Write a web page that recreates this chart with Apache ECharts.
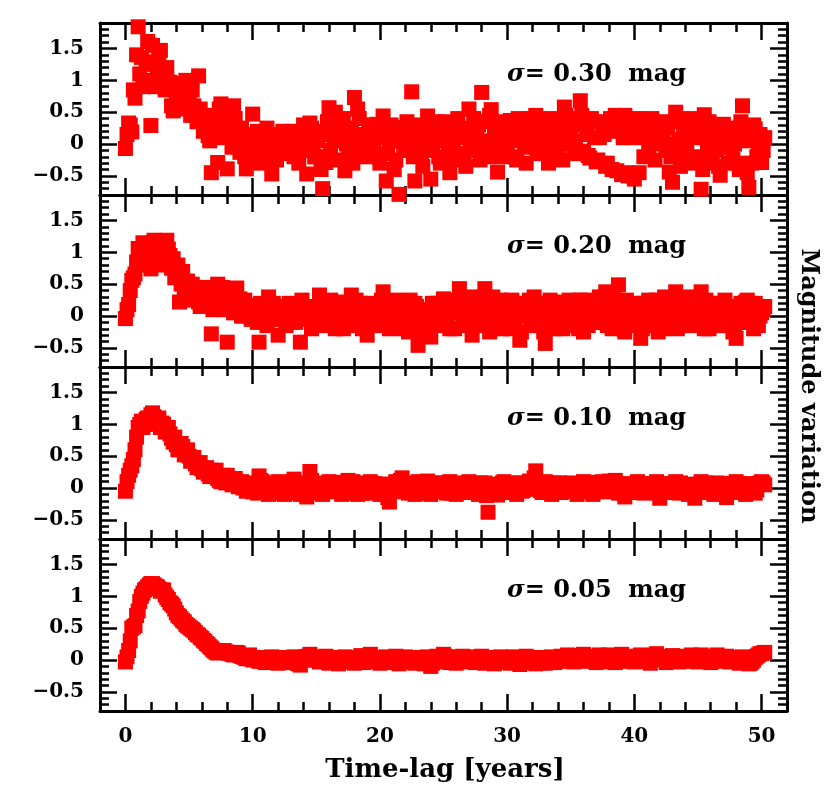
<!DOCTYPE html>
<html><head><meta charset="utf-8">
<script src="https://cdn.jsdelivr.net/npm/echarts@6/dist/echarts.min.js"></script>
<style>html,body{margin:0;padding:0;background:#fff}#c{width:830px;height:808px}</style>
</head><body><div id="c"></div>
<script>
// time lags in years, first sampling (shared by all panels)
const timeLag = [
0,0.25,0.5,0.75,1,1.25,1.5,1.75,2,2.25,
2.5,2.75,3,3.25,3.5,3.75,4,4.25,4.5,4.75,
5,5.25,5.5,5.75,6,6.25,6.5,6.75,7,7.25,
7.5,7.75,8,8.25,8.5,8.75,9,9.25,9.5,9.75,
10,10.25,10.5,10.75,11,11.25,11.5,11.75,12,12.25,
12.5,12.75,13,13.25,13.5,13.75,14,14.25,14.5,14.75,
15,15.25,15.5,15.75,16,16.25,16.5,16.75,17,17.25,
17.5,17.75,18,18.25,18.5,18.75,19,19.25,19.5,19.75,
20,20.25,20.5,20.75,21,21.25,21.5,21.75,22,22.25,
22.5,22.75,23,23.25,23.5,23.75,24,24.25,24.5,24.75,
25,25.25,25.5,25.75,26,26.25,26.5,26.75,27,27.25,
27.5,27.75,28,28.25,28.5,28.75,29,29.25,29.5,29.75,
30,30.25,30.5,30.75,31,31.25,31.5,31.75,32,32.25,
32.5,32.75,33,33.25,33.5,33.75,34,34.25,34.5,34.75,
35,35.25,35.5,35.75,36,36.25,36.5,36.75,37,37.25,
37.5,37.75,38,38.25,38.5,38.75,39,39.25,39.5,39.75,
40,40.25,40.5,40.75,41,41.25,41.5,41.75,42,42.25,
42.5,42.75,43,43.25,43.5,43.75,44,44.25,44.5,44.75,
45,45.25,45.5,45.75,46,46.25,46.5,46.75,47,47.25,
47.5,47.75,48,48.25,48.5,48.75,49,49.25,49.5,49.75,
50,50.25];

// time lags in years, second (interleaved) sampling
const timeLagB = [
0.125,0.375,0.625,0.875,1.125,1.375,1.625,1.875,2.125,2.375,
2.625,2.875,3.125,3.375,3.625,3.875,4.125,4.375,4.625,4.875,
5.125,5.375,5.625,5.875,6.125,6.375,6.625,6.875,7.125,7.375,
7.625,7.875,8.125,8.375,8.625,8.875,9.125,9.375,9.625,9.875,
10.125,10.375,10.625,10.875,11.125,11.375,11.625,11.875,12.125,12.375,
12.625,12.875,13.125,13.375,13.625,13.875,14.125,14.375,14.625,14.875,
15.125,15.375,15.625,15.875,16.125,16.375,16.625,16.875,17.125,17.375,
17.625,17.875,18.125,18.375,18.625,18.875,19.125,19.375,19.625,19.875,
20.125,20.375,20.625,20.875,21.125,21.375,21.625,21.875,22.125,22.375,
22.625,22.875,23.125,23.375,23.625,23.875,24.125,24.375,24.625,24.875,
25.125,25.375,25.625,25.875,26.125,26.375,26.625,26.875,27.125,27.375,
27.625,27.875,28.125,28.375,28.625,28.875,29.125,29.375,29.625,29.875,
30.125,30.375,30.625,30.875,31.125,31.375,31.625,31.875,32.125,32.375,
32.625,32.875,33.125,33.375,33.625,33.875,34.125,34.375,34.625,34.875,
35.125,35.375,35.625,35.875,36.125,36.375,36.625,36.875,37.125,37.375,
37.625,37.875,38.125,38.375,38.625,38.875,39.125,39.375,39.625,39.875,
40.125,40.375,40.625,40.875,41.125,41.375,41.625,41.875,42.125,42.375,
42.625,42.875,43.125,43.375,43.625,43.875,44.125,44.375,44.625,44.875,
45.125,45.375,45.625,45.875,46.125,46.375,46.625,46.875,47.125,47.375,
47.625,47.875,48.125,48.375,48.625,48.875,49.125,49.375,49.625,49.875,
50.125];

// magnitude variation, sigma = 0.30 mag
const sig30 = [
-0.07,0.33,0.19,0.72,1.84,1.36,0.94,1.61,0.29,1.29,
1.10,1.47,0.95,1.20,0.97,0.52,0.75,0.84,0.92,1.00,
0.65,0.85,0.50,1.07,0.45,0.30,0.13,-0.45,0.40,-0.29,
0.63,0.35,-0.39,0.20,0.60,0.18,-0.13,0.05,-0.39,-0.10,
0.47,-0.20,0.08,0.00,-0.25,0.15,-0.47,-0.16,0.05,0.15,
-0.10,0.02,0.08,-0.20,0.10,-0.05,0.30,-0.47,0.33,0.00,
-0.20,0.15,-0.70,-0.29,0.57,0.24,0.50,0.05,0.20,-0.42,
-0.10,0.21,0.73,0.55,0.00,-0.20,0.10,0.25,-0.10,0.31,
-0.30,0.44,-0.58,0.05,0.15,-0.25,-0.79,0.10,0.26,-0.05,
0.82,-0.58,0.12,-0.15,0.20,0.44,-0.55,0.05,0.18,-0.30,
0.10,0.25,-0.45,0.00,0.30,-0.20,0.10,-0.35,0.55,0.15,
-0.10,0.30,0.81,0.05,-0.20,0.54,0.20,-0.44,0.00,0.25,
-0.15,0.37,0.10,-0.25,0.30,0.05,-0.30,0.20,0.00,0.45,
0.25,-0.10,0.10,-0.30,0.29,0.05,-0.20,0.35,0.58,0.00,
0.20,-0.15,0.30,0.68,-0.11,0.15,-0.22,0.35,-0.28,0.10,
0.30,-0.35,0.29,-0.40,0.45,0.20,-0.48,0.45,-0.50,0.10,
-0.55,0.40,0.30,-0.20,0.15,0.35,0.00,0.30,0.25,0.10,
-0.10,-0.44,-0.60,0.50,0.07,-0.15,0.30,-0.30,0.24,0.10,
-0.20,-0.71,0.46,0.00,-0.30,0.20,-0.10,-0.49,0.31,0.10,
-0.05,-0.23,0.20,-0.40,0.60,0.05,-0.68,-0.30,0.24,0.00,
-0.29,0.10];
const sig30B = [
0.15,0.30,0.85,1.40,1.10,0.90,1.25,1.00,1.55,0.90,
1.35,1.05,0.85,0.90,0.60,0.95,0.70,0.55,0.80,0.60,
0.45,0.60,0.35,0.55,0.20,0.40,0.05,0.45,0.25,0.55,
0.10,0.50,0.30,-0.05,0.40,0.00,0.25,-0.20,0.15,0.05,
-0.10,0.20,-0.30,0.10,0.25,-0.05,0.15,-0.25,0.10,0.20,
0.00,-0.15,0.20,0.10,-0.30,0.15,-0.10,0.05,0.25,-0.20,
0.05,-0.40,0.20,0.35,-0.10,0.10,0.30,-0.25,0.40,0.00,
0.25,-0.30,0.05,0.40,-0.15,0.15,0.30,0.00,0.20,-0.20,
0.10,0.25,-0.15,0.30,-0.40,0.05,0.20,-0.10,0.35,0.15,
-0.20,0.30,0.05,-0.35,0.25,0.10,-0.10,0.35,-0.20,0.15,
0.35,-0.10,0.20,-0.25,0.40,0.10,-0.15,0.25,0.00,0.40,
0.15,-0.25,0.35,0.00,0.45,-0.10,0.30,0.10,-0.20,0.35,
0.05,0.25,-0.20,0.40,0.15,-0.05,0.30,0.40,0.10,-0.15,
0.35,0.15,-0.10,0.40,0.00,0.30,0.10,-0.25,0.45,0.20,
0.40,0.05,-0.15,0.45,0.30,-0.18,0.40,0.10,-0.25,0.35,
0.15,-0.30,0.40,0.25,-0.42,0.35,0.10,-0.45,0.30,-0.50,
0.20,-0.45,0.35,0.10,-0.10,0.40,-0.25,0.20,0.05,0.35,
0.25,-0.20,0.00,0.35,-0.35,0.15,-0.05,0.40,-0.25,0.20,
0.30,-0.40,0.10,0.35,-0.15,0.25,-0.35,0.05,0.20,-0.30,
0.25,0.00,-0.30,0.35,0.15,-0.45,0.10,0.30,-0.20,0.15,
-0.10];

// sigma = 0.20 mag
const sig20 = [
-0.04,0.18,0.56,0.66,1.06,0.95,1.11,0.90,0.74,1.19,
1.05,0.85,1.10,1.19,0.95,0.90,0.64,0.22,0.70,0.45,
0.35,0.50,0.30,0.22,0.40,0.30,0.15,-0.28,0.35,0.50,
0.30,0.10,-0.41,0.20,0.05,0.44,0.27,0.00,0.10,0.17,
-0.05,0.05,-0.41,0.00,0.08,0.30,0.10,-0.05,-0.30,0.05,
0.01,0.10,-0.10,0.05,0.17,-0.41,0.00,0.15,0.05,-0.15,
0.10,0.33,0.00,-0.10,0.15,0.05,-0.20,0.22,0.10,-0.05,
0.15,0.33,0.00,-0.15,0.20,0.05,-0.30,0.10,-0.05,0.15,
0.00,0.38,0.10,-0.20,0.05,0.25,-0.10,0.15,0.00,-0.25,
0.10,0.20,-0.46,0.05,-0.15,0.10,-0.33,0.00,0.20,-0.10,
0.27,0.00,-0.20,0.15,0.05,0.43,-0.10,0.20,0.00,-0.30,
0.10,0.25,-0.15,0.43,0.05,-0.20,0.15,0.00,0.25,-0.10,
0.10,-0.20,0.20,0.05,-0.38,0.15,0.00,0.25,-0.15,0.10,
-0.05,0.20,-0.43,0.00,0.15,-0.20,0.10,0.22,-0.10,0.05,
0.20,-0.15,0.05,0.25,-0.25,0.10,0.00,-0.10,0.15,0.30,
-0.05,0.38,0.10,-0.20,0.20,0.49,0.05,-0.25,0.10,0.00,
0.15,-0.10,-0.35,0.20,0.05,-0.15,0.10,0.25,0.00,-0.20,
0.10,0.20,-0.10,0.38,0.05,-0.15,0.15,0.00,0.25,-0.05,
0.10,0.38,-0.20,0.05,0.15,-0.10,0.20,0.00,-0.15,0.10,
0.05,-0.25,-0.35,0.15,0.00,0.22,-0.10,0.10,0.20,-0.15,
0.05,0.15];
const sig20B = [
0.10,0.40,0.60,0.85,1.00,1.15,0.80,1.00,1.15,0.95,
1.15,0.95,0.80,1.05,0.75,0.60,0.80,0.50,0.35,0.55,
0.25,0.45,0.35,0.15,0.30,0.45,0.20,0.10,0.40,0.25,
0.45,0.20,0.35,0.10,0.30,0.15,0.00,0.25,0.05,-0.05,
0.15,-0.10,0.20,0.10,-0.15,0.05,0.20,-0.05,0.15,0.00,
-0.15,0.20,0.05,-0.10,0.10,0.25,-0.05,0.10,-0.20,0.15,
0.00,0.20,-0.15,0.10,0.25,-0.05,0.15,0.00,-0.20,0.20,
0.05,-0.10,0.25,0.10,-0.20,0.15,0.00,0.20,-0.15,0.05,
0.25,-0.10,0.05,0.20,-0.15,0.00,0.15,-0.20,0.10,0.25,
-0.05,0.15,-0.25,0.10,0.00,-0.20,0.20,0.05,-0.15,0.15,
-0.05,0.20,0.05,-0.20,0.25,0.10,-0.15,0.00,0.30,-0.10,
0.15,-0.05,0.20,0.00,-0.25,0.30,-0.10,0.10,-0.20,0.20,
0.00,0.25,-0.10,0.10,-0.25,0.20,0.05,-0.15,0.30,0.00,
0.15,-0.25,0.05,0.25,-0.10,0.00,0.20,-0.20,0.10,0.25,
-0.05,0.15,-0.20,0.10,0.25,-0.15,0.05,0.20,-0.10,0.15,
0.25,-0.15,0.00,0.30,-0.10,0.15,-0.20,0.25,0.05,-0.15,
0.20,0.00,-0.20,0.10,0.25,-0.10,0.05,-0.25,0.15,0.30,
-0.10,0.05,0.25,-0.20,0.10,0.00,0.30,-0.15,0.05,0.20,
-0.10,0.15,0.25,-0.20,0.05,0.20,-0.15,0.10,0.25,-0.05,
0.15,-0.20,0.05,0.20,-0.10,0.25,0.00,-0.20,0.15,0.00,
0.10];

// sigma = 0.10 mag
const sig10 = [
-0.05,0.20,0.35,0.60,0.95,1.05,1.00,1.10,1.15,1.12,
1.05,0.95,1.00,0.92,0.85,0.72,0.68,0.62,0.65,0.55,
0.50,0.45,0.38,0.35,0.30,0.28,0.22,0.28,0.20,0.15,
0.10,0.15,0.20,0.12,0.08,0.10,0.05,0.00,-0.05,0.02,
-0.06,0.02,0.19,0.10,-0.05,-0.10,0.04,-0.07,0.10,0.00,
-0.10,0.07,-0.06,0.14,0.02,-0.10,0.06,-0.14,0.26,0.02,
-0.07,0.08,-0.10,0.03,0.10,-0.06,0.01,0.08,-0.10,0.04,
0.12,-0.07,0.03,-0.10,0.07,0.00,-0.08,0.10,-0.05,0.03,
-0.10,0.06,-0.06,-0.22,0.01,0.10,-0.06,0.16,0.03,-0.08,
0.06,-0.10,0.10,0.00,-0.07,0.11,-0.10,0.03,0.08,-0.05,
0.07,-0.08,0.10,0.00,-0.10,0.06,0.02,-0.07,0.10,-0.03,
0.06,-0.10,0.00,0.08,-0.38,-0.07,0.06,-0.11,0.03,0.10,
-0.07,0.06,0.00,-0.10,0.08,-0.04,0.06,0.11,0.00,0.27,
0.06,-0.07,0.10,0.00,-0.10,0.08,0.02,-0.07,0.06,-0.04,
0.08,0.00,-0.10,0.05,0.10,-0.05,0.02,-0.10,0.06,0.00,
0.10,-0.06,0.11,0.02,0.12,-0.08,0.05,-0.14,0.07,0.00,
-0.07,0.10,0.02,-0.08,0.06,0.00,-0.07,0.10,-0.16,0.03,
0.06,-0.07,0.00,0.10,-0.08,0.05,0.00,-0.10,0.06,-0.16,
0.02,0.10,-0.07,0.06,0.00,-0.10,0.08,-0.05,0.02,-0.15,
0.06,0.00,0.10,-0.07,0.04,-0.10,0.07,0.00,-0.08,0.06,
0.10,0.05];
const sig10B = [
0.10,0.28,0.45,0.80,1.00,0.95,1.08,1.05,1.18,1.00,
1.10,1.02,0.88,0.95,0.78,0.80,0.60,0.70,0.52,0.60,
0.42,0.48,0.32,0.40,0.25,0.32,0.18,0.24,0.28,0.12,
0.20,0.08,0.14,0.05,0.15,0.02,0.10,0.06,-0.03,0.08,
0.05,-0.08,0.12,0.00,0.06,-0.05,0.08,0.02,-0.08,0.06,
0.02,-0.05,0.10,-0.08,0.06,0.03,-0.06,0.08,0.12,-0.05,
0.04,-0.08,0.06,0.00,-0.05,0.09,-0.03,0.05,0.02,-0.08,
0.05,0.10,-0.05,0.04,-0.08,0.08,0.02,-0.06,0.07,0.00,
0.04,-0.10,-0.15,0.06,-0.04,0.05,0.12,-0.05,0.08,0.00,
-0.06,0.05,0.00,0.09,-0.08,0.03,0.06,-0.05,0.00,0.08,
-0.03,0.06,-0.08,0.04,0.08,-0.05,0.03,0.07,-0.06,0.05,
0.02,0.08,-0.08,-0.12,0.02,0.05,-0.06,0.04,0.08,-0.05,
0.03,-0.06,0.08,0.02,-0.05,0.07,-0.02,0.05,0.16,0.06,
-0.04,0.08,0.00,0.05,-0.06,0.03,0.08,-0.04,0.02,0.07,
-0.05,0.06,0.02,-0.06,0.04,0.09,-0.03,0.05,0.00,0.08,
-0.05,0.06,0.02,0.10,-0.05,0.04,-0.08,0.03,0.06,-0.04,
0.05,-0.03,0.07,0.00,-0.06,0.05,0.03,-0.08,-0.05,0.06,
0.00,0.07,-0.04,0.03,0.08,-0.06,0.05,0.00,-0.08,-0.06,
0.06,-0.03,0.08,0.00,0.05,-0.06,0.02,0.07,-0.08,-0.05,
0.03,0.07,-0.04,0.05,-0.02,0.06,-0.05,0.04,-0.03,0.08,
0.08];

// sigma = 0.05 mag
const sig05 = [
-0.03,0.15,0.50,0.54,0.77,1.00,1.10,1.15,1.20,1.18,
1.15,1.08,1.10,0.98,0.90,0.85,0.74,0.68,0.62,0.56,
0.52,0.48,0.43,0.39,0.34,0.29,0.24,0.19,0.14,0.11,
0.14,0.15,0.12,0.10,0.08,0.12,0.07,0.05,0.02,0.08,
0.00,0.03,-0.02,0.04,-0.04,0.01,0.05,-0.03,-0.05,0.02,
0.04,-0.04,0.01,0.05,-0.05,-0.08,0.03,0.00,0.09,0.02,
0.05,-0.03,0.02,0.06,-0.05,0.00,0.04,-0.06,0.01,0.05,
-0.03,0.04,-0.05,0.02,0.07,-0.04,0.01,0.09,-0.02,0.04,
-0.05,0.02,0.05,-0.04,0.01,0.06,-0.06,0.02,0.05,-0.03,
0.03,-0.05,0.04,0.00,-0.06,0.05,-0.10,0.01,0.06,-0.03,
0.09,0.02,-0.04,0.05,-0.05,0.03,0.06,-0.03,0.01,0.05,
-0.04,0.03,0.06,-0.05,0.01,0.04,-0.06,0.02,0.05,-0.03,
0.03,-0.05,0.05,0.00,-0.07,0.02,0.06,-0.04,0.01,-0.06,
0.04,-0.03,-0.05,0.02,0.05,-0.04,0.01,0.06,-0.02,0.08,
0.02,-0.03,0.07,0.00,0.09,-0.02,0.05,0.01,-0.04,0.08,
0.03,-0.03,0.08,0.01,-0.04,0.05,0.09,-0.02,0.02,0.06,
-0.03,0.04,0.08,-0.02,0.02,-0.05,0.06,0.10,0.00,0.05,
-0.04,0.03,0.07,0.01,-0.03,0.06,0.02,-0.02,0.08,0.03,
-0.03,0.08,0.01,0.05,-0.04,0.03,0.08,-0.02,0.02,0.06,
-0.03,0.04,0.01,-0.05,0.05,0.02,-0.06,-0.03,0.04,0.08,
0.10,0.12];
const sig05B = [
0.05,0.30,0.52,0.70,0.92,1.05,1.12,1.18,1.20,1.16,
1.12,1.10,1.02,0.95,0.88,0.80,0.70,0.65,0.60,0.54,
0.50,0.46,0.40,0.36,0.31,0.26,0.21,0.16,0.12,0.13,
0.15,0.13,0.11,0.09,0.10,0.11,0.06,0.04,0.05,0.02,
0.02,0.00,0.03,-0.02,0.02,0.04,-0.02,0.00,0.03,-0.03,
0.01,-0.02,0.03,-0.03,-0.06,0.01,0.05,0.06,0.03,0.00,
0.02,0.04,-0.02,0.01,0.03,-0.03,0.02,-0.02,0.03,0.01,
0.01,-0.02,0.00,0.04,0.02,-0.01,0.05,0.03,0.01,-0.02,
0.00,0.03,0.01,-0.02,0.04,0.01,-0.02,0.03,0.00,0.02,
-0.02,0.01,0.03,-0.03,0.01,-0.04,-0.05,0.04,0.02,0.05,
0.06,0.00,0.02,0.01,-0.02,0.04,0.02,0.00,0.03,0.01,
0.00,0.04,0.02,-0.02,0.03,0.01,-0.03,0.04,0.02,0.00,
-0.02,0.02,0.03,-0.04,-0.02,0.04,0.02,0.00,-0.03,0.00,
0.01,-0.01,0.00,0.03,0.02,-0.01,0.04,0.02,0.04,0.06,
0.00,0.03,0.05,0.04,0.06,0.02,0.03,0.05,0.01,0.06,
0.00,0.04,0.05,0.02,0.01,0.07,0.04,0.01,0.04,0.02,
0.01,0.06,0.03,0.00,-0.02,0.02,0.08,0.05,0.03,0.02,
0.00,0.05,0.04,-0.01,0.02,0.04,0.00,0.05,0.05,0.00,
0.04,0.05,0.03,0.01,0.00,0.06,0.04,0.00,0.04,0.02,
0.00,0.03,-0.02,0.00,0.04,-0.02,-0.05,0.00,0.06,0.10,
0.11];

const panelSigma = ['0.30','0.20','0.10','0.05'];
const xMajorTicks = [0,10,20,30,40,50];
const yMajorTicks = [-0.5,0,0.5,1,1.5];
const panelsA = [sig30, sig20, sig10, sig05];
const panelsB = [sig30B, sig20B, sig10B, sig05B];

const FONT = 'DejaVu Serif';
const chart = echarts.init(document.getElementById('c'));
const grids = [], xAxes = [], yAxes = [], series = [], graphics = [];
const TOP = 23, PH = 172;
const lineStyle = {color:'#000', width:3};
const tickStyle = {color:'#000', width:2.5};

function fmtY(v){ return v < 0 ? '\u2212' + Math.abs(v) : String(v); }

panelsA.forEach((ys, i) => {
  grids.push({left:100, right:43, top: TOP + PH*i, height: PH});
  const last = (i === panelsA.length - 1);
  ['bottom','top'].forEach(pos => {
    xAxes.push({gridIndex:i, type:'value', position:pos, min:-2, max:52, interval:2,
      axisLine:{show:true, onZero:false, lineStyle},
      axisTick:{show:true, inside:true, length:9, lineStyle:tickStyle},
      axisLabel:{show:false}, splitLine:{show:false}});
    xAxes.push({gridIndex:i, type:'value', position:pos, min:-2, max:52,
      axisLine:{show:false, onZero:false},
      axisTick:{show:true, inside:true, length:17, customValues:xMajorTicks, lineStyle:tickStyle},
      axisLabel:{show: last && pos==='bottom', customValues:xMajorTicks, margin:16,
        fontFamily:FONT, fontWeight:'bold', fontSize:20, color:'#000'},
      splitLine:{show:false}});
  });
  ['left','right'].forEach(pos => {
    yAxes.push({gridIndex:i, type:'value', position:pos, min:-0.8, max:1.9, interval:0.1,
      axisLine:{show:true, onZero:false, lineStyle},
      axisTick:{show:true, inside:true, length:9, lineStyle:tickStyle},
      axisLabel:{show: pos==='left', customValues:yMajorTicks, formatter:fmtY, margin:16,
        fontFamily:FONT, fontWeight:'bold', fontSize:20, color:'#000'},
      splitLine:{show:false}});
    yAxes.push({gridIndex:i, type:'value', position:pos, min:-0.8, max:1.9,
      axisLine:{show:false, onZero:false},
      axisTick:{show:true, inside:true, length:17, customValues:yMajorTicks, lineStyle:tickStyle},
      axisLabel:{show:false}, splitLine:{show:false}});
  });
  const data = timeLag.map((t,k) => [t, ys[k]])
    .concat(timeLagB.map((t,k) => [t, panelsB[i][k]]));
  series.push({type:'scatter', xAxisIndex:4*i, yAxisIndex:4*i, symbol:'rect', symbolSize:15,
    itemStyle:{color:'#ff0000', opacity:1}, clip:false, silent:true, large:false,
    data: data});
  graphics.push({type:'text', x:507, y: 75 + PH*i,
    style:{text:'{s|\u03c3}{n|= ' + panelSigma[i] + '  mag}', verticalAlign:'middle', align:'left',
      rich:{s:{fontFamily:FONT, fontStyle:'italic', fontWeight:'bold', fontSize:24, fill:'#000'},
            n:{fontFamily:FONT, fontWeight:'bold', fontSize:24, fill:'#000'}}}});
});

graphics.push({type:'text', x:445, y:770,
  style:{text:'Time-lag [years]', font:'bold 26px "DejaVu Serif"', fill:'#000', align:'center', verticalAlign:'middle'}});
graphics.push({type:'text', x:808, y:386, rotation:-Math.PI/2,
  style:{text:'Magnitude variation', font:'bold 24px "DejaVu Serif"', fill:'#000', align:'center', verticalAlign:'middle'}});

chart.setOption({
  animation:false,
  backgroundColor:'#fff',
  grid:grids, xAxis:xAxes, yAxis:yAxes, series:series, graphic:graphics
});
</script></body></html>
